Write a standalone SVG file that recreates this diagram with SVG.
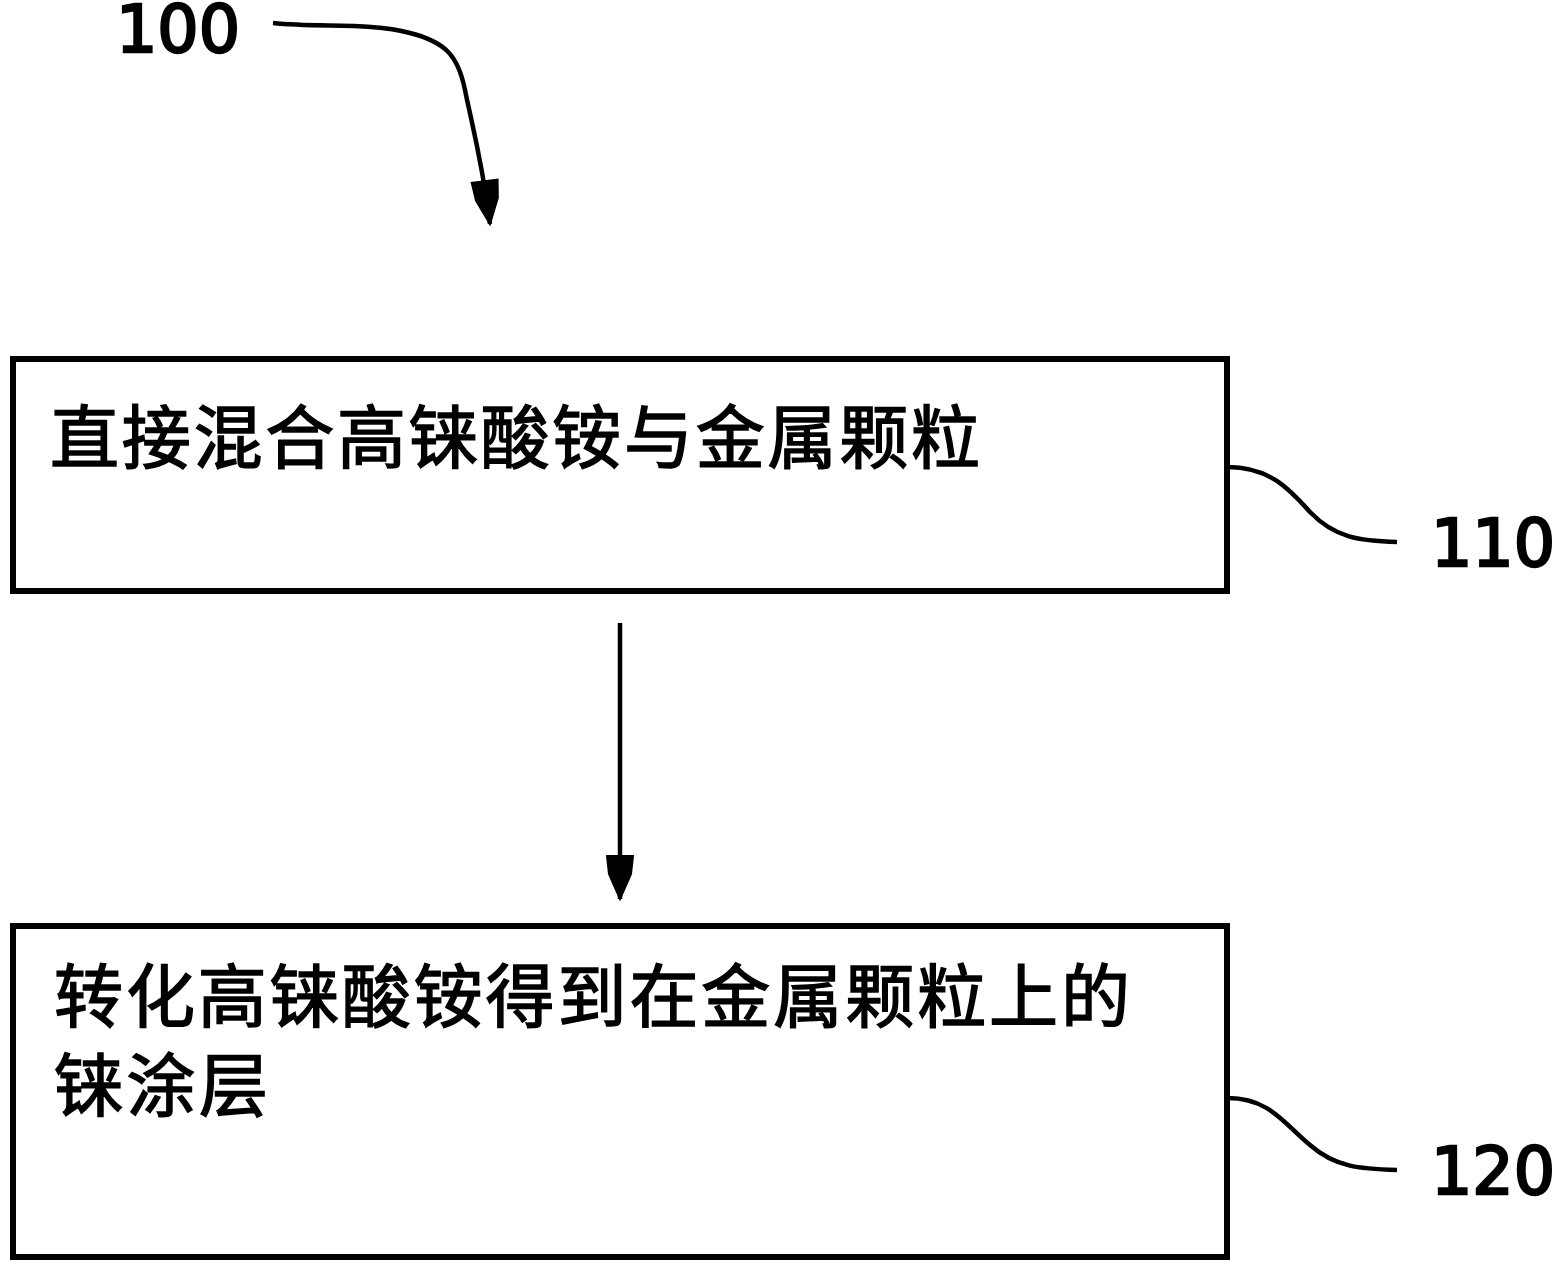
<svg xmlns="http://www.w3.org/2000/svg" width="1560" height="1269" viewBox="0 0 1560 1269">
<defs>
<marker id="a" markerUnits="userSpaceOnUse" markerWidth="48" markerHeight="32" refX="45" refY="16" orient="auto"><path d="M2 3 L20 5 L45 16 L20 27 L2 29 Z" fill="#000" stroke="#000" stroke-width="2"/></marker>
</defs>
<style>
text{font-family:"Noto Sans CJK SC","DejaVu Sans",sans-serif;fill:#000}
.n{font-family:"DejaVu Sans",sans-serif;font-size:65px;fill:#000;stroke:#000;stroke-width:2.5}
.c{font-size:69px;stroke:#000;stroke-width:1.5}
.b{fill:#fff;stroke:#000;stroke-width:6}
.l{fill:none;stroke:#000;stroke-width:4.5}
</style>
<rect width="1560" height="1269" fill="#fff"/>
<g id="connectors">
<path class="l" d="M273 23 C320 28 370 22 410 33 C445 42 458 55 465 90 C472 125 482 160 490 224" marker-end="url(#a)"/>
<path class="l" d="M620 623 L620 899" marker-end="url(#a)"/>
<path class="l" d="M1228 467 C1270 467 1290 490 1310 512 C1335 538 1360 541 1397 542"/>
<path class="l" d="M1228 1098 C1270 1098 1285 1125 1310 1145 C1335 1167 1360 1169 1397 1170"/>
</g>
<g id="n100"><text class="n" x="116" y="52">100</text></g>
<g id="n110box"><rect class="b" x="13" y="359" width="1214" height="232"/><text class="c" x="50" y="463" textLength="930">直接混合高铼酸铵与金属颗粒</text></g>
<g id="n110"><text class="n" x="1431" y="566">110</text></g>
<g id="n120box"><rect class="b" x="13" y="926" width="1214" height="331"/><text class="c" x="54" y="1022" textLength="1076">转化高铼酸铵得到在金属颗粒上的</text><text class="c" x="54" y="1111" textLength="214">铼涂层</text></g>
<g id="n120"><text class="n" x="1431" y="1194">120</text></g>
</svg>
